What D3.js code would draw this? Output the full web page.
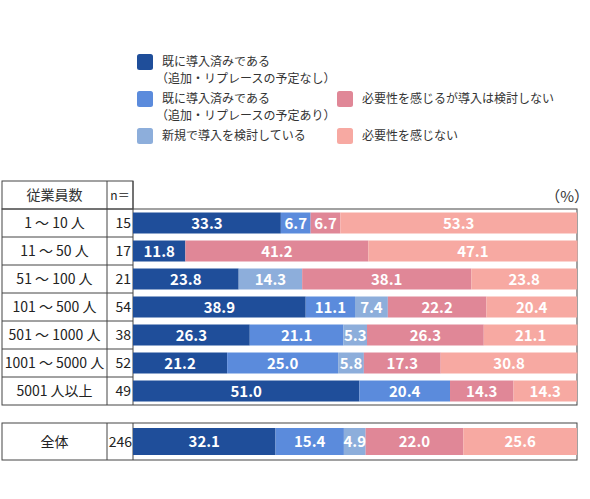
<!DOCTYPE html>
<html>
<head>
<meta charset="utf-8">
<script src="https://cdn.jsdelivr.net/npm/d3@7"></script>
<style>
  body { margin: 0; background: #fff; }
  svg text { font-family: "Noto Sans CJK JP", "Noto Sans", sans-serif; }
</style>
</head>
<body>
<div id="chart"></div>
<script>
// 凡例・系列
const seriesNames = [
  ["既に導入済みである", "（追加・リプレースの予定なし）"],
  ["既に導入済みである", "（追加・リプレースの予定あり）"],
  ["新規で導入を検討している"],
  ["必要性を感じるが導入は検討しない"],
  ["必要性を感じない"]
];
const colors = ["#1f4e9a", "#5b8bdc", "#8daedb", "#e08797", "#f7a9a2"];

// 行ラベル・n
const groups = ["1 ～ 10 人", "11 ～ 50 人", "51 ～ 100 人", "101 ～ 500 人", "501 ～ 1000 人", "1001 ～ 5000 人", "5001 人以上"];
const nValues = [15, 17, 21, 54, 38, 52, 49];

// 各系列の値（%）
const s1 = [33.3, 11.8, 23.8, 38.9, 26.3, 21.2, 51.0];
const s2 = [6.7, 0, 0, 11.1, 21.1, 25.0, 20.4];
const s3 = [0, 0, 14.3, 7.4, 5.3, 5.8, 0];
const s4 = [6.7, 41.2, 38.1, 22.2, 26.3, 17.3, 14.3];
const s5 = [53.3, 47.1, 23.8, 20.4, 21.1, 30.8, 14.3];

// 全体
const totalLabel = "全体";
const totalN = 246;
const totalValues = [32.1, 15.4, 4.9, 22.0, 25.6];

const W = 590, H = 499;
const svg = d3.select("#chart").append("svg").attr("width", W).attr("height", H);

const x0 = 2, x1 = 107, x2 = 133, xEnd = 577;
const headTop = 181, rowTop = 209, rowH = 28;
const x = d3.scaleLinear().domain([0, 100]).range([x2, xEnd]);
const y = d3.scaleBand().domain(d3.range(groups.length))
  .range([rowTop, rowTop + rowH * groups.length]).paddingInner(0.25).paddingOuter(0.125);

// 凡例
const legendPos = [
  { x: 137, y: 54 }, { x: 137, y: 91 }, { x: 137, y: 128 },
  { x: 337, y: 91 }, { x: 337, y: 128 }
];
const legend = svg.append("g").selectAll("g").data(seriesNames).join("g")
  .attr("transform", (d, i) => `translate(${legendPos[i].x},${legendPos[i].y})`);
legend.append("rect").attr("width", 16).attr("height", 16).attr("rx", 2.5)
  .attr("fill", (d, i) => colors[i]);
legend.each(function(d) {
  const g = d3.select(this);
  d.forEach((line, j) => {
    g.append("text").attr("x", line.startsWith("（") ? 19 : 25).attr("y", 12 + j * 17)
      .attr("font-size", 12).attr("fill", "#333").text(line);
  });
});

// 表のヘッダ
const grid = svg.append("g").attr("stroke", "#444").attr("fill", "none");
grid.append("rect").attr("x", x0).attr("y", headTop).attr("width", x2 - x0).attr("height", rowTop - headTop);
svg.append("text").attr("x", (x0 + x1) / 2).attr("y", 200).attr("text-anchor", "middle")
  .attr("font-size", 14).attr("fill", "#333").text("従業員数");
svg.append("text").attr("x", 120).attr("y", 200).attr("text-anchor", "middle")
  .attr("font-size", 12).attr("fill", "#222").text("n＝");
svg.append("text").attr("x", 589).attr("y", 202).attr("text-anchor", "end")
  .attr("font-size", 15).attr("fill", "#333").text("（%）");

// 枠線
const bodyBottom = rowTop + rowH * groups.length;
grid.append("rect").attr("x", x0).attr("y", rowTop).attr("width", xEnd - x0).attr("height", bodyBottom - rowTop);
grid.append("line").attr("x1", x1).attr("x2", x1).attr("y1", headTop).attr("y2", bodyBottom);
grid.append("line").attr("x1", x2).attr("x2", x2).attr("y1", headTop).attr("y2", bodyBottom);
groups.forEach((g, i) => {
  if (i > 0) grid.append("line").attr("x1", x0).attr("x2", x2)
    .attr("y1", rowTop + rowH * i).attr("y2", rowTop + rowH * i);
});

// 行ラベル
const rows = svg.append("g").selectAll("g").data(groups).join("g");
rows.append("text").attr("x", (x0 + x1) / 2).attr("y", (d, i) => rowTop + rowH * i + 19)
  .attr("text-anchor", "middle").attr("font-size", 14).attr("fill", "#222").text(d => d);
rows.append("text").attr("x", 131).attr("y", (d, i) => rowTop + rowH * i + 19)
  .attr("text-anchor", "end").attr("font-size", 14).attr("fill", "#222").text((d, i) => nValues[i]);

// 積み上げデータ
const series = [s1, s2, s3, s4, s5];
function stackRow(vals) {
  let acc = 0;
  return vals.map((v, k) => { const seg = { k, v, a: acc, b: acc + v }; acc += v; return seg; })
    .filter(s => s.v > 0);
}
const rowSegs = groups.map((g, i) => stackRow(series.map(s => s[i])));

function drawBar(segs, yTop, h) {
  const g = svg.append("g");
  g.selectAll("rect").data(segs).join("rect")
    .attr("x", d => x(d.a)).attr("y", yTop)
    .attr("width", d => x(d.b) - x(d.a)).attr("height", h)
    .attr("fill", d => colors[d.k]);
  g.selectAll("text").data(segs).join("text")
    .attr("x", d => (x(d.a) + x(d.b)) / 2).attr("y", yTop + h / 2 + 5.5)
    .attr("text-anchor", "middle").attr("fill", "#fff")
    .attr("font-family", "'Liberation Sans', Arial, sans-serif")
    .attr("font-size", 15).attr("font-weight", "bold")
    .text(d => d.v.toFixed(1));
}
rowSegs.forEach((segs, i) => drawBar(segs, y(i), y.bandwidth()));

// 全体
const tTop = 423, tBottom = 460;
grid.append("rect").attr("x", x0).attr("y", tTop).attr("width", xEnd - x0).attr("height", tBottom - tTop);
grid.append("line").attr("x1", x1).attr("x2", x1).attr("y1", tTop).attr("y2", tBottom);
grid.append("line").attr("x1", x2).attr("x2", x2).attr("y1", tTop).attr("y2", tBottom);
svg.append("text").attr("x", (x0 + x1) / 2).attr("y", 447).attr("text-anchor", "middle")
  .attr("font-size", 14).attr("fill", "#222").text(totalLabel);
svg.append("text").attr("x", 132).attr("y", 447).attr("text-anchor", "end")
  .attr("font-size", 14).attr("fill", "#222").text(totalN);
drawBar(stackRow(totalValues), 428, 27);
</script>
</body>
</html>
